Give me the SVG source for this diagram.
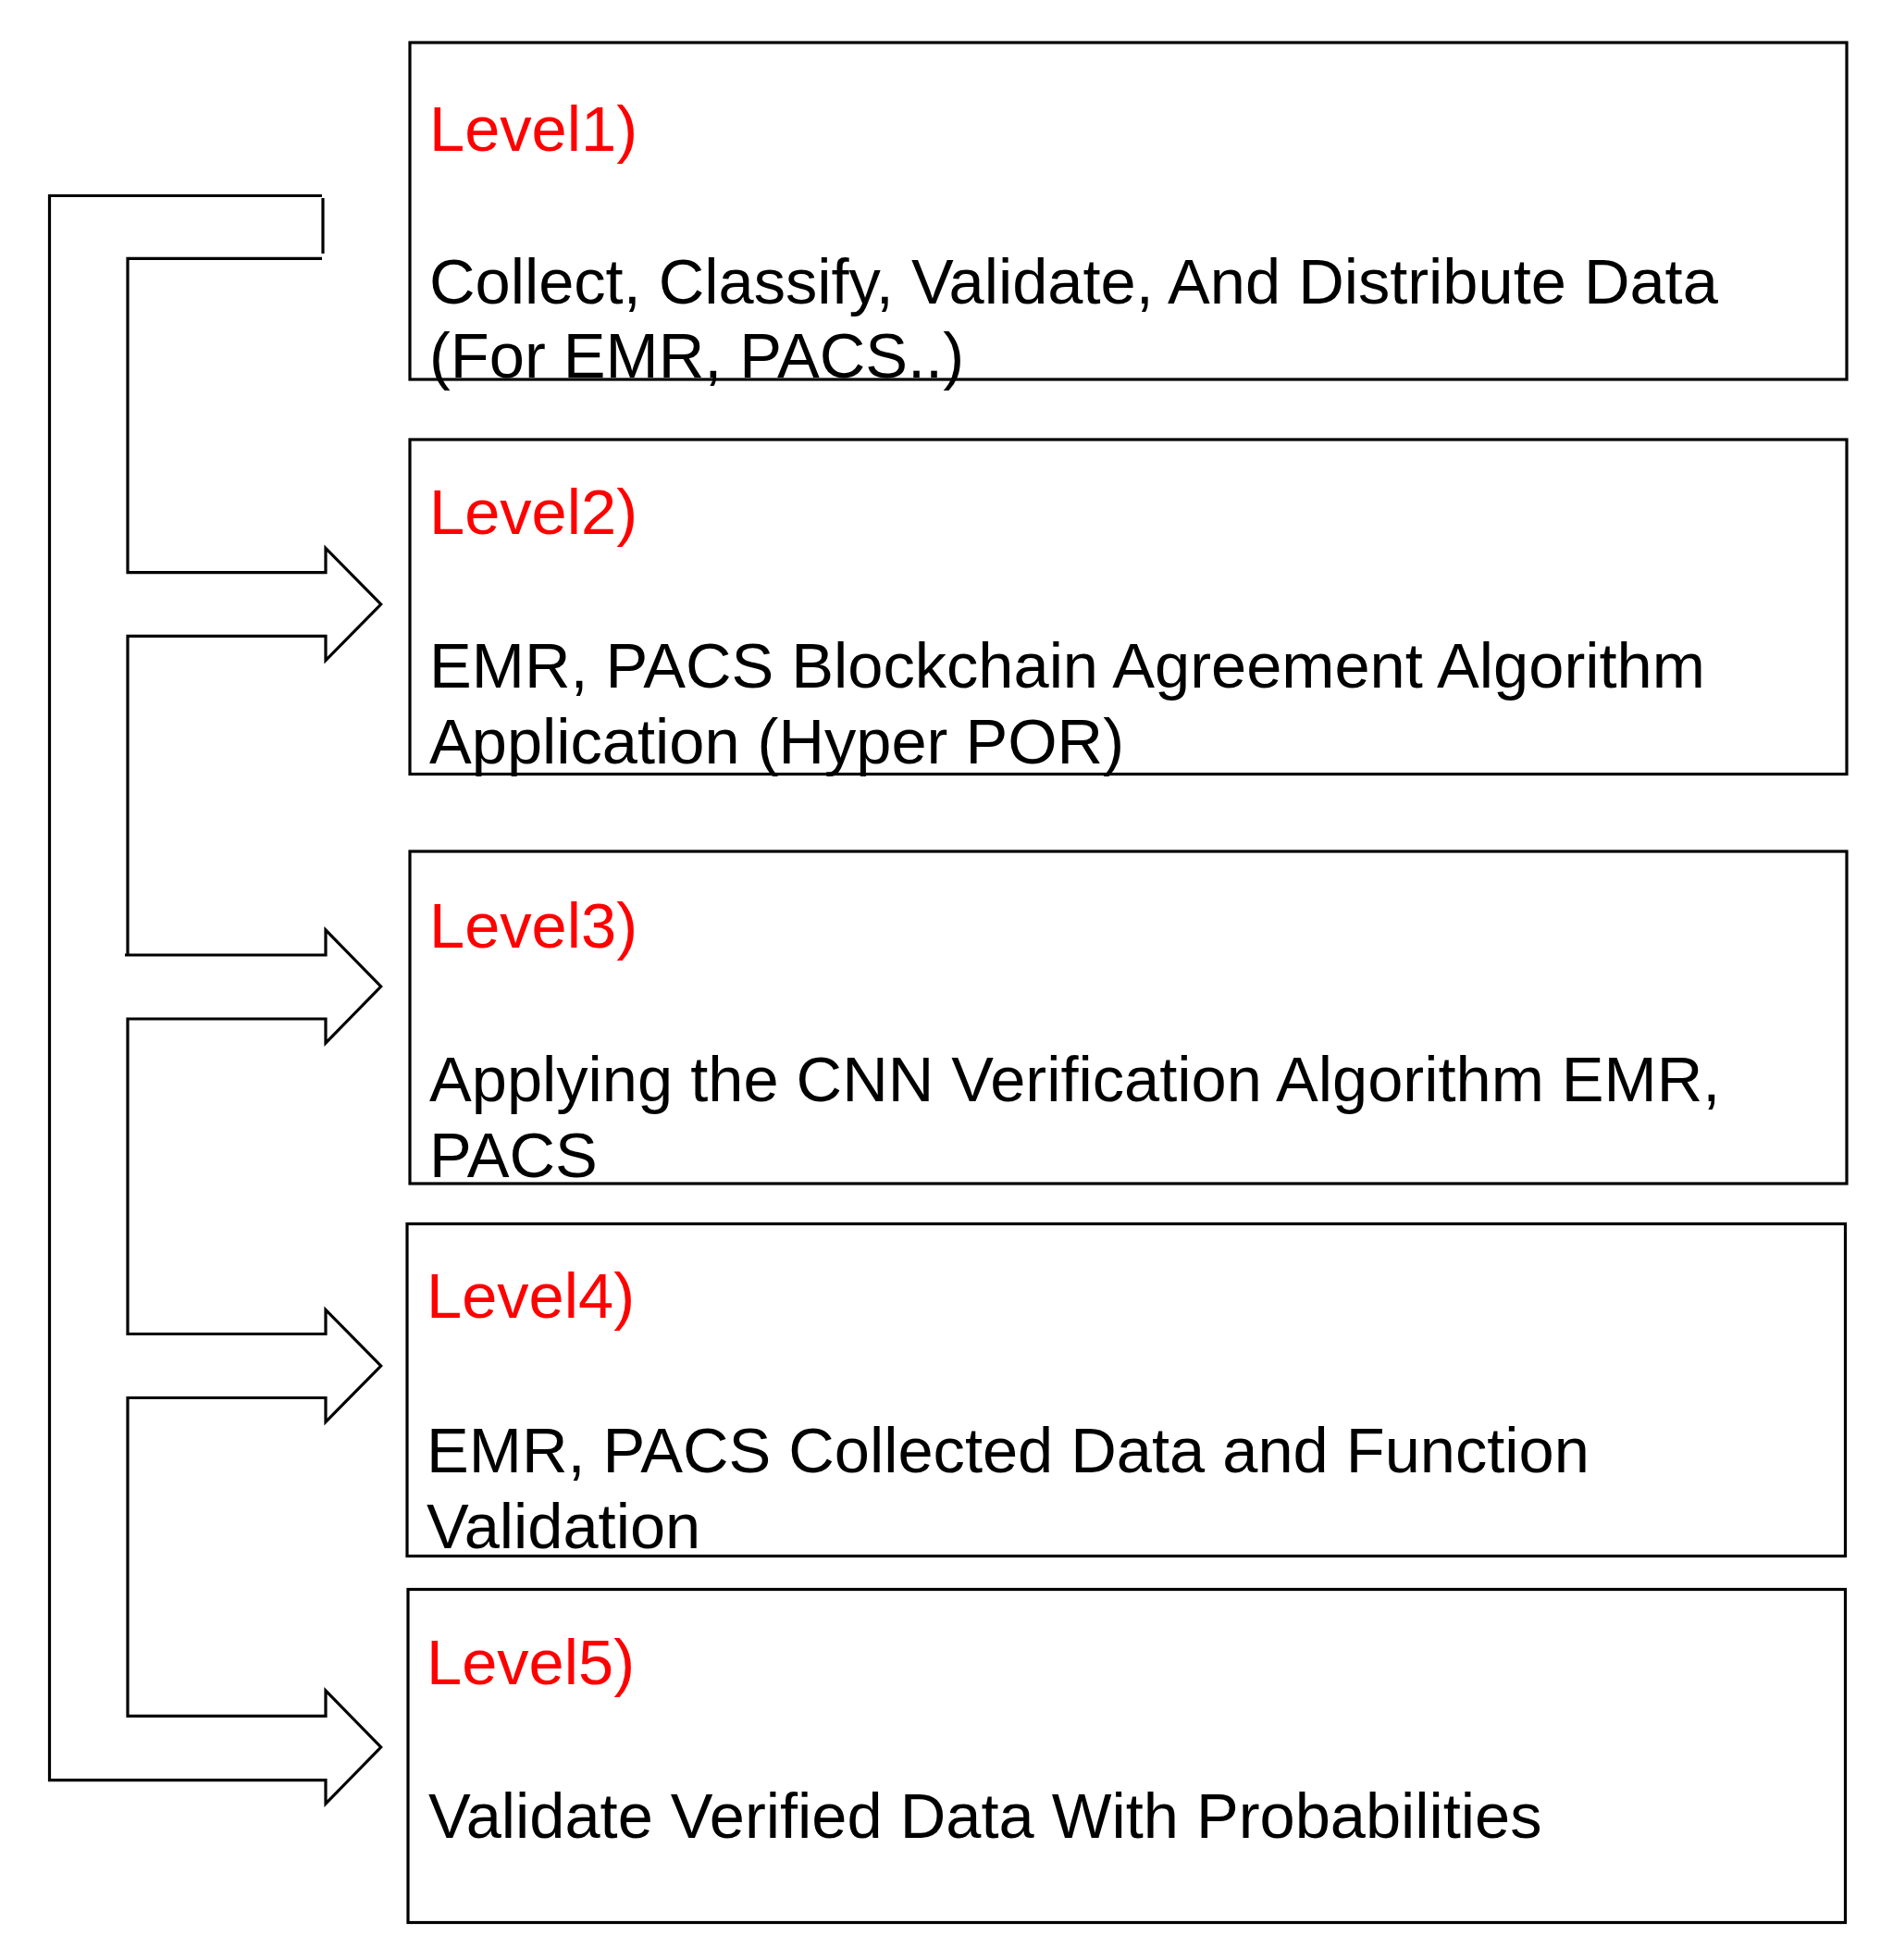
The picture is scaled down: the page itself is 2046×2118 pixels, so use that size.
<svg xmlns="http://www.w3.org/2000/svg" width="2046" height="2118" viewBox="0 0 2046 2118">
<style>
.box{fill:#fff;stroke:#000;stroke-width:3.2}
.lvl{fill:#ff0000;font-family:"Liberation Sans",Arial,sans-serif;font-size:68.6px}
.txt{fill:#000;font-family:"Liberation Sans",Arial,sans-serif;font-size:68.6px}
.conn{fill:none;stroke:#000;stroke-width:3.2;stroke-linejoin:miter}
</style>
<rect width="2046" height="2118" fill="#fff"/>
<g id="connectors">
<path class="conn" d="M348,211.5 H53.5 V1923.7 H352 V1949 L411.7,1888 L352,1827 V1854.3 H138 V1510.5 H352 V1536.5 L411.7,1476 L352,1415.5 V1441.5 H138 V1101 H352 V1127 L411.7,1066 L352,1005 V1032 H135 M138,1032 V687.3 H352 V713.5 L411.7,653 L352,592.5 V618.7 H138 V279.3 H348"/>
<line class="conn" x1="349" y1="214" x2="349" y2="274" stroke-width="2.2"/>
</g>
<g id="level1">
<rect class="box" x="443" y="46" width="1553" height="364"/>
<text class="lvl" x="464" y="163">Level1)</text>
<text class="txt" x="464" y="328">Collect, Classify, Validate, And Distribute Data</text>
<text class="txt" x="464" y="408">(For EMR, PACS..)</text>
</g>
<g id="level2">
<rect class="box" x="443" y="475" width="1553" height="361.5"/>
<text class="lvl" x="464" y="577">Level2)</text>
<text class="txt" x="464" y="743">EMR, PACS Blockchain Agreement Algorithm</text>
<text class="txt" x="464" y="825">Application (Hyper POR)</text>
</g>
<g id="level3">
<rect class="box" x="443" y="920" width="1553" height="359"/>
<text class="lvl" x="464" y="1024">Level3)</text>
<text class="txt" x="464" y="1190">Applying the CNN Verification Algorithm EMR,</text>
<text class="txt" x="464" y="1272">PACS</text>
</g>
<g id="level4">
<rect class="box" x="440" y="1322.5" width="1554.5" height="359"/>
<text class="lvl" x="461" y="1424">Level4)</text>
<text class="txt" x="461" y="1591">EMR, PACS Collected Data and Function</text>
<text class="txt" x="461" y="1673">Validation</text>
</g>
<g id="level5">
<rect class="box" x="441" y="1717.5" width="1553.5" height="360"/>
<text class="lvl" x="461" y="1820">Level5)</text>
<text class="txt" x="463" y="1986">Validate Verified Data With Probabilities</text>
</g>
</svg>
